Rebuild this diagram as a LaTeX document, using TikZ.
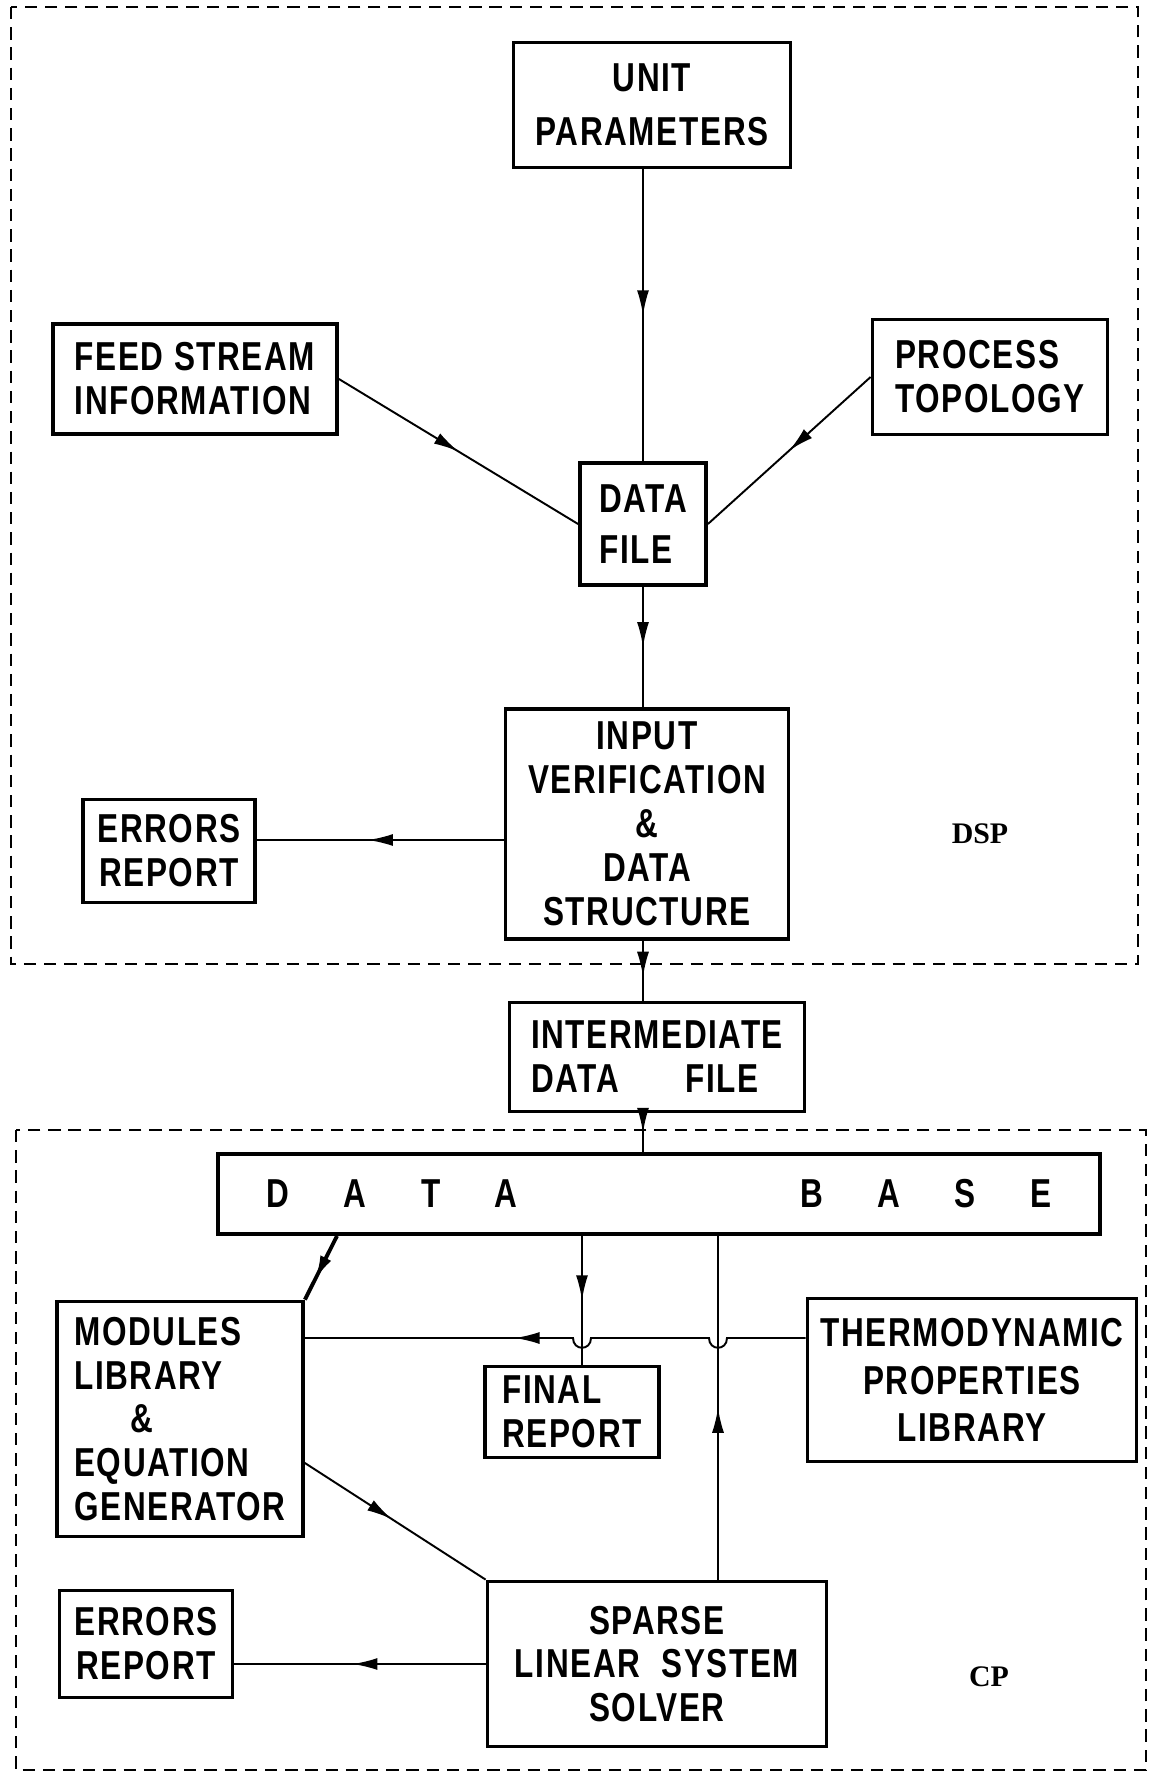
\documentclass[tikz,border=0pt]{standalone}
\usepackage{fontspec}
\setmainfont{Liberation Sans}[FakeStretch=0.78, LetterSpace=4]
\newfontfamily\tagfont{Liberation Serif}
\usetikzlibrary{arrows.meta, calc, decorations.markings}
\tikzset{
  every picture/.style={line width=1.1pt},
  block/.style={draw, line width=2.2pt, align=center, inner sep=0pt, font=\bfseries\fontsize{23}{25}\selectfont},
  link/.style={line width=1.1pt},
  midarrow/.style={postaction={decorate}, decoration={markings, mark=at position #1 with {\arrow{Latex[length=5mm, width=2.4mm]}}}},
  midarrow/.default=0.5,
  zone/.style={dash pattern=on 7pt off 4.5pt, line width=1.4pt},
  tag/.style={font=\tagfont\bfseries\fontsize{17}{20}\selectfont},
}

\begin{document}
\begin{tikzpicture}[x=0.02cm, y=-0.02cm]
  \useasboundingbox (0,0) rectangle (1149,1779);
  % DSP part
  \draw[zone] (11,7) rectangle (1138,964);
  \node[block, minimum width=5.54cm, minimum height=2.5cm] (uparam) at (652,105) {UNIT\\[6pt]PARAMETERS};
  \node[block, minimum width=5.68cm, minimum height=2.2cm, align=left] (feed) at (195,379) {FEED STREAM\\INFORMATION};
  \node[block, minimum width=4.7cm, minimum height=2.3cm, align=left] (topo) at (990,377) {PROCESS\\TOPOLOGY};
  \node[block, minimum width=2.52cm, minimum height=2.44cm, align=left] (dfile) at (643,524) {DATA\\[4pt]FILE};
  \node[block, minimum width=5.66cm, minimum height=4.6cm] (verif) at (647,824) {INPUT\\VERIFICATION\\\&\\DATA\\STRUCTURE};
  \node[block, minimum width=3.44cm, minimum height=2.06cm] (err1) at (169,851) {ERRORS\\REPORT};
  \node[tag] (dsp) at (980,834) {DSP};
  \coordinate (eline) at (0,840);
  \draw[link, midarrow] (uparam.south -| dfile) -- (dfile);
  \draw[link, midarrow] (feed.east) -- (dfile.west);
  \draw[link, midarrow] (topo.west) -- (dfile.east);
  \draw[link, midarrow] (dfile.south) -- (dfile.south |- verif.north);
  \draw[link, midarrow=0.55] (verif.west |- eline) -- (err1.east |- eline);
  % intermediate file
  \node[block, minimum width=5.9cm, minimum height=2.18cm, align=left] (inter) at (657,1057) {INTERMEDIATE\\DATA\hspace{38pt}FILE};
  \draw[link, midarrow=0.6] (verif.south -| dfile) -- (inter.north -| dfile);
  % CP part
  \draw[zone] (16,1130) rectangle (1146,1770);
  \node[block, minimum width=17.64cm, minimum height=1.6cm] (dbase) at (659,1194)
    {D\hspace{31pt}A\hspace{31pt}T\hspace{31pt}A\hspace{161pt}B\hspace{31pt}A\hspace{31pt}S\hspace{31pt}E};
  \node[block, minimum width=4.92cm, minimum height=4.7cm, align=left] (modules) at (180,1419) {MODULES\\LIBRARY\\\hspace{1.4em}\&\\EQUATION\\GENERATOR};
  \node[block, minimum width=3.48cm, minimum height=1.82cm, align=left] (final) at (572,1412) {FINAL\\REPORT};
  \node[block, minimum width=6.58cm, minimum height=3.26cm, font=\bfseries\fontsize{23}{27}\selectfont] (thermo) at (972,1380) {THERMODYNAMIC\\PROPERTIES\\LIBRARY};
  \node[block, minimum width=6.78cm, minimum height=3.3cm] (solver) at (657,1664) {SPARSE\\LINEAR\hspace{12pt}SYSTEM\\SOLVER};
  \node[block, minimum width=3.46cm, minimum height=2.14cm] (err2) at (146,1644) {ERRORS\\REPORT};
  \node[tag] (cp) at (989,1677) {CP};
  \coordinate (mx) at (337,0);
  \coordinate (fx) at (582,0);
  \coordinate (sx) at (718,0);
  \coordinate (hz) at (0,1338);
  \coordinate (mlow) at (0,1463);
  \coordinate (hopF) at (fx |- hz);
  \coordinate (hopS) at (sx |- hz);
  \draw[link, midarrow] (inter.south -| dfile) -- (dbase.north -| dfile);
  \draw[line width=2.2pt, midarrow=0.7] (dbase.south -| mx) -- (modules.north east);
  \draw[link, midarrow] (dbase.south -| fx) -- (final.north -| fx);
  \draw[link, midarrow] (solver.north -| sx) -- (dbase.south -| sx);
  \draw[link, midarrow=0.6] (thermo.west |- hz) -- ($(hopS)+(9,0)$) .. controls +(0,13) and +(0,13) .. ($(hopS)+(-9,0)$)
    -- ($(hopF)+(9,0)$) .. controls +(0,13) and +(0,13) .. ($(hopF)+(-9,0)$) -- (modules.east |- hz);
  \draw[link, midarrow=0.48] (modules.east |- mlow) -- (solver.north west);
  \draw[link, midarrow=0.53] (solver.west) -- (solver.west -| err2.east);
\end{tikzpicture}
\end{document}
